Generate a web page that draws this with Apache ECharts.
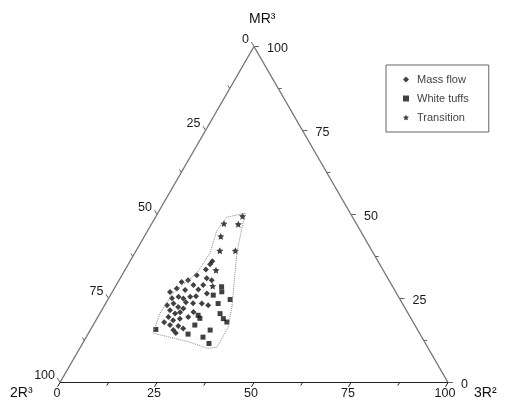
<!DOCTYPE html>
<html>
<head>
<meta charset="utf-8">
<script src="https://cdn.jsdelivr.net/npm/echarts@6/dist/echarts.min.js"></script>
<style>
html, body { margin: 0; padding: 0; background: #fff; }
#chart { width: 511px; height: 410px; }
</style>
</head>
<body>
<div id="chart"></div>
<script>
// compositions as [MR3, 3R2] in %, 2R3 = 100 - MR3 - 3R2
const massFlow = [
  [36.1, 21.2], [35.2, 21.1], [33.6, 20.8], [31.9, 19.3], [31.0, 22.3], [30.4, 23.9],
  [29.9, 16.4], [29.0, 19.9], [29.0, 22.4], [28.0, 16.1], [27.5, 18.5], [27.7, 21.8],
  [26.5, 24.6], [25.5, 17.8], [25.0, 19.3], [25.5, 20.8], [23.5, 24.8], [23.0, 26.7],
  [23.5, 17.5], [22.5, 19.2], [22.0, 20.8], [21.5, 17.6], [20.5, 19.4], [21.0, 23.9],
  [19.5, 18.2], [18.5, 19.9], [19.0, 21.4], [19.5, 23.3], [17.1, 19.8], [16.8, 22.1],
  [16.1, 23.7], [15.6, 21.4], [25.1, 16.3], [23.0, 16.1], [20.9, 20.5], [23.9, 20.5],
  [17.9, 17.9], [14.7, 22.5], [25.7, 22.2], [30.4, 17.8], [23.6, 22.5], [26.9, 14.9]
];
const whiteTuffs = [
  [28.5, 27.4], [27.0, 28.2], [26.0, 26.5], [24.7, 31.5], [23.5, 29.0], [20.0, 25.6],
  [20.5, 31.0], [19.0, 32.6], [18.0, 34.0], [17.1, 26.2], [15.6, 30.9], [15.8, 16.8],
  [11.6, 32.6], [14.4, 25.8], [19.1, 26.5], [13.5, 30.1]
];
const transition = [
  [49.5, 22.3], [47.3, 18.6], [47.1, 22.4], [43.5, 19.7], [39.2, 21.6], [39.2, 25.6],
  [28.7, 25.0], [33.4, 23.5]
];
// field boundary round the samples
const outline = [
  [50.4, 22.5], [38.8, 26.2], [22.4, 33.1], [16.5, 35.1], [10.5, 35.2], [10.2, 32.8],
  [12.0, 27.5], [14.7, 16.6], [20.6, 15.5], [26.6, 15.8], [32.5, 19.0], [38.5, 19.4],
  [45.3, 17.8], [49.2, 18.4], [50.4, 22.5]
];
const majorTicks = [0, 25, 50, 75, 100];
const minorTicks = [12.5, 37.5, 62.5, 87.5];
const seriesNames = ["Mass flow", "White tuffs", "Transition"];

const H = Math.sqrt(3) / 2;
function toXY(p) {
  return [p[1] + p[0] / 2, p[0] * H];
}
// 0 = bottom (3R2), 1 = left (2R3), 2 = right (MR3)
function edgePoint(edge, v) {
  if (edge === 0) return toXY([0, v]);
  if (edge === 1) return toXY([100 - v, 0]);
  return toXY([v, 100 - v]);
}
const tickDir = [[-0.5, 0.866], [-0.5, -0.866], [1, 0]];
const labelPos = [
  { dx: -3, dy: 11, align: "center" },
  { dx: -5, dy: -7, align: "right" },
  { dx: 13, dy: 2, align: "left" }
];

const tickData = [];
[0, 1, 2].forEach((edge) => {
  majorTicks.forEach((v) => {
    const p = edgePoint(edge, v);
    tickData.push([p[0], p[1], v, edge, 1]);
  });
  minorTicks.forEach((v) => {
    const p = edgePoint(edge, v);
    tickData.push([p[0], p[1], v, edge, 0]);
  });
});

function renderTick(params, api) {
  const c = api.coord([api.value(0), api.value(1)]);
  const edge = api.value(3);
  const major = api.value(4) === 1;
  const len = major ? 5 : 3.5;
  const d = tickDir[edge];
  const children = [{
    type: "line",
    shape: { x1: c[0], y1: c[1], x2: c[0] + d[0] * len, y2: c[1] + d[1] * len },
    style: { stroke: edge === 0 ? "#222" : "#666", lineWidth: 1 }
  }];
  if (major) {
    const lp = labelPos[edge];
    children.push({
      type: "text",
      x: c[0] + lp.dx,
      y: c[1] + lp.dy,
      style: {
        text: String(api.value(2)),
        fill: "#1a1a1a",
        font: "12.5px 'Liberation Sans', Arial, sans-serif",
        align: lp.align,
        verticalAlign: "middle"
      }
    });
  }
  return { type: "group", children: children };
}

const sides = [toXY([0, 0]), toXY([100, 0]), toXY([0, 100])];
const base = [toXY([0, 0]), toXY([0, 100])];

const option = {
  animation: false,
  backgroundColor: "#fff",
  grid: { left: 60, top: 46.5, width: 388, height: 336 },
  xAxis: { type: "value", min: 0, max: 100, show: false },
  yAxis: { type: "value", min: 0, max: 100 * H, show: false },
  legend: {
    data: seriesNames,
    orient: "vertical",
    left: 386,
    top: 65,
    padding: [9, 20, 9, 17],
    itemWidth: 6,
    itemHeight: 6,
    itemGap: 8,
    borderColor: "#666",
    borderWidth: 1,
    textStyle: { fontSize: 11, color: "#444", fontFamily: "Liberation Sans", padding: [0, 0, 0, 3] }
  },
  graphic: [
    { type: "text", left: 249, top: 12, style: { text: "MR³", font: "14px 'Liberation Sans', Arial", fill: "#111" } },
    { type: "text", left: 10, top: 386, style: { text: "2R³", font: "14px 'Liberation Sans', Arial", fill: "#111" } },
    { type: "text", left: 474, top: 386, style: { text: "3R²", font: "14px 'Liberation Sans', Arial", fill: "#111" } }
  ],
  series: [
    {
      type: "line",
      data: sides,
      showSymbol: false,
      silent: true,
      lineStyle: { color: "#777", width: 1.4 }
    },
    {
      type: "line",
      data: base,
      showSymbol: false,
      silent: true,
      lineStyle: { color: "#222", width: 1.2 }
    },
    {
      type: "line",
      data: outline.map(toXY),
      showSymbol: false,
      silent: true,
      lineStyle: { color: "#888", width: 1, type: "dotted" }
    },
    {
      type: "custom",
      data: tickData,
      renderItem: renderTick,
      silent: true
    },
    {
      name: seriesNames[0],
      type: "scatter",
      symbol: "diamond",
      symbolSize: 6,
      itemStyle: { color: "#111" },
      data: massFlow.map(toXY)
    },
    {
      name: seriesNames[1],
      type: "scatter",
      symbol: "rect",
      symbolSize: 5,
      itemStyle: { color: "#111" },
      data: whiteTuffs.map(toXY)
    },
    {
      name: seriesNames[2],
      type: "scatter",
      symbol: "path://M0,-10L2.9,-4L9.5,-3.1L4.7,1.5L5.9,8.1L0,5L-5.9,8.1L-4.7,1.5L-9.5,-3.1L-2.9,-4Z",
      symbolSize: 7,
      itemStyle: { color: "#111" },
      data: transition.map(toXY)
    }
  ]
};

const myChart = echarts.init(document.getElementById("chart"));
myChart.setOption(option);
</script>
</body>
</html>
